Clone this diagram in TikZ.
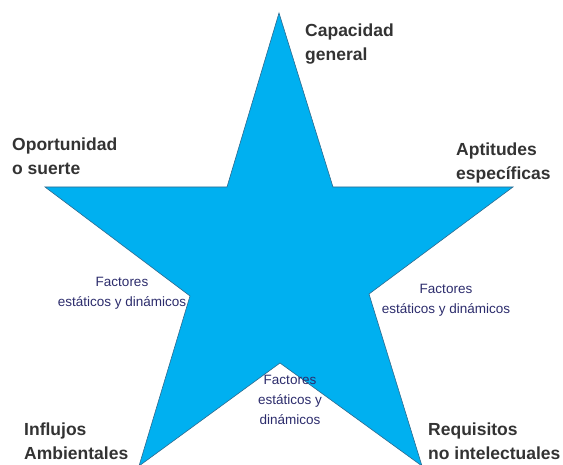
\documentclass[tikz,border=0pt]{standalone}
\usepackage{fontspec}
\setmainfont{Liberation Sans}
\usepackage{xcolor}
\usepackage{tikz}
\usetikzlibrary{positioning}
\definecolor{starblue}{HTML}{00B0F0}
\definecolor{staredge}{HTML}{2F6A8E}
\definecolor{labelgray}{HTML}{333333}
\definecolor{factornavy}{HTML}{2C2C6C}

\begin{document}
\begin{tikzpicture}[x=1pt, y=-1pt,
    lbl/.style={align=left, anchor=west, text=labelgray, inner sep=0pt,
        font=\fontsize{17.5}{24}\selectfont\bfseries},
    factor/.style={align=center, text=factornavy, inner sep=0pt,
        font=\fontsize{13.5}{20}\selectfont}
]
\useasboundingbox (0,0) rectangle (563,465);
% star points
\coordinate (top) at (279,13);
\coordinate (ur) at (333,187);
\coordinate (rp) at (513,187);
\coordinate (rc) at (369,294);
\coordinate (br) at (422,466);
\coordinate (bc) at (280,363);
\coordinate (bl) at (139,466);
\coordinate (lc) at (190,296);
\coordinate (lp) at (45,187);
\coordinate (ul) at (227,187);
\fill[starblue, draw=staredge, line width=0.6pt]
    (top) -- (ur) -- (rp) -- (rc) -- (br) -- (bc) -- (bl) -- (lc) -- (lp) -- (ul) -- cycle;

\node[lbl] (cap) at (305,44) {Capacidad\\general};
\node[lbl] (opo) at (12,156) {Oportunidad\\o suerte};
\node[lbl] (apt) at (456,163) {Aptitudes\\específicas};
\node[lbl] (inf) at (24,441) {Influjos\\Ambientales};
\node[lbl] (req) at (428,441) {Requisitos\\no intelectuales};

\node[factor] (fl) at (122,293) {Factores\\estáticos y dinámicos};
\node[factor] (fr) at (446,300) {Factores\\estáticos y dinámicos};
\node[factor] (fb) at (290,400) {Factores\\estáticos y\\dinámicos};
\end{tikzpicture}
\end{document}
